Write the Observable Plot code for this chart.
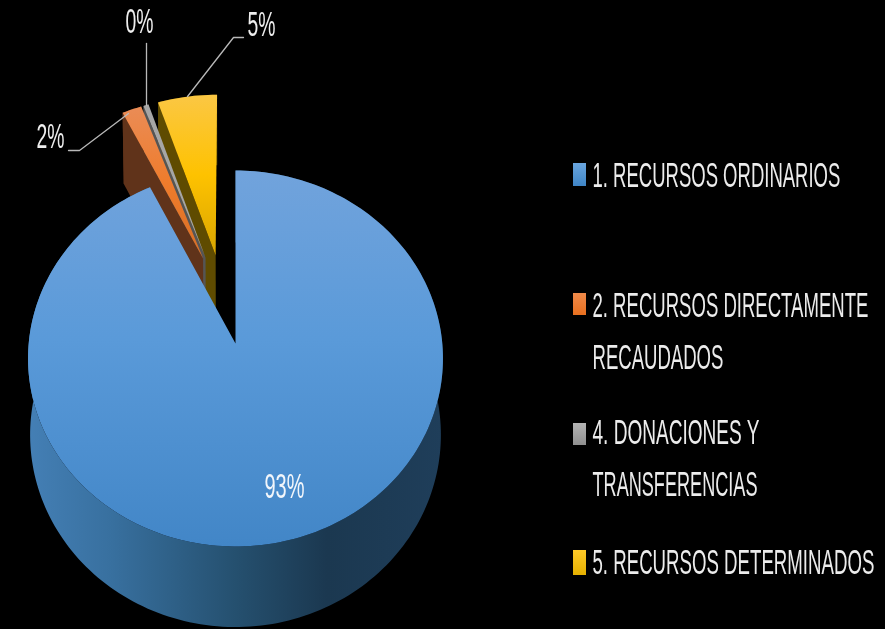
<!DOCTYPE html>
<html>
<head>
<meta charset="utf-8">
<script src="https://cdn.jsdelivr.net/npm/d3@7"></script>
<script src="https://cdn.jsdelivr.net/npm/@observablehq/plot@0.6"></script>
<style>
html,body{margin:0;padding:0;background:#000;overflow:hidden}
svg{display:block;filter:blur(0.55px)}
</style>
</head>
<body>
<script>
// Data
const categories = ["1. RECURSOS ORDINARIOS", "2. RECURSOS DIRECTAMENTE RECAUDADOS", "4. DONACIONES Y TRANSFERENCIAS", "5. RECURSOS DETERMINADOS"];
const shares = [92.7, 1.7, 0.45, 5.15];
const percentLabels = ["93%", "2%", "0%", "5%"];

// Colours per slice
const faceFills = ["url(#top0)", "url(#top1)", "#a6a6a6", "url(#top3)"];
const wallFills = ["url(#wall0)", "#60331a", "#555555", "#5f4b00"];
const swatchFills = ["url(#sw0)", "url(#sw1)", "url(#sw2)", "url(#sw3)"];

// Legend lines
const legendLines = ["1. RECURSOS ORDINARIOS", "2. RECURSOS DIRECTAMENTE", "RECAUDADOS", "4. DONACIONES Y", "TRANSFERENCIAS", "5. RECURSOS DETERMINADOS"];
const legendLineY = [175, 305, 357, 432, 484, 562];
const legendLineW = [248, 276, 131, 167, 165, 282];
const swatchTop = [163, 293, 423, 550];
const swatchBottom = [186, 315, 445, 575];

// Camera of the tilted disc
const cx = 235, cy = 343, R = 206.8, S = 186.8, D = 76, k = 0.0797, shrink = 0.99, explode = 0.5;
// Direction each slice is pulled out along, in degrees clockwise from straight up
const explodeBearing = [0, -19, -17.5, -11.5];
const explodeAmount = [0, explode, explode, explode];
const project = (u, v, h) => {
  const w = 1 + k * v, s = h ? shrink : 1;
  return {x: cx + R * u * s / w, y: cy - S * v * s / w + D * h / w};
};

const total = d3.sum(shares);
let acc = 0;
const slices = shares.map((value, i) => {
  const a0 = acc / total * 2 * Math.PI;
  acc += value;
  const a1 = acc / total * 2 * Math.PI;
  const b = explodeBearing[i] * Math.PI / 180, e = explodeAmount[i];
  return {i, a0, a1, ou: e * Math.sin(b), ov: e * Math.cos(b)};
});
const arcPts = (s, h) => {
  const n = Math.max(4, Math.ceil((s.a1 - s.a0) * 40));
  return d3.range(n + 1).map(j => {
    const a = s.a0 + (s.a1 - s.a0) * j / n;
    return project(s.ou + Math.sin(a), s.ov + Math.cos(a), h);
  });
};
const tip = (s, h) => project(s.ou, s.ov, h);
const topFace = s => [tip(s, 0), ...arcPts(s, 0)];
const arcWall = s => [...arcPts(s, 0), ...arcPts(s, 1).reverse()];
const edgeWall = s => {
  const c = project(s.ou + Math.sin(s.a0), s.ov + Math.cos(s.a0), 0);
  const d = project(s.ou + Math.sin(s.a0), s.ov + Math.cos(s.a0), 1);
  return [tip(s, 0), c, d, tip(s, 1)];
};

const poly = (pts, fill) => Plot.line(pts, {x: "x", y: "y", fill, stroke: "none", curve: "linear-closed"});

// back to front: yellow, grey, orange, blue
const order = [3, 2, 1, 0];
const pieMarks = order.flatMap(i => {
  const s = slices[i];
  return [poly(arcWall(s), wallFills[i]), poly(edgeWall(s), wallFills[i]), poly(topFace(s), faceFills[i])];
});

function gradient(defs, id, horizontal, stops) {
  const g = defs.append("linearGradient").attr("id", id)
    .attr("x1", 0).attr("y1", 0).attr("x2", horizontal ? 1 : 0).attr("y2", horizontal ? 0 : 1);
  stops.forEach(([o, c]) => g.append("stop").attr("offset", o).attr("stop-color", c));
}
const defsMark = () => {
  const defs = d3.create("svg:defs");
  gradient(defs, "top0", false, [[0, "#71a3dc"], [0.45, "#5a9ad9"], [1, "#4286c7"]]);
  gradient(defs, "top1", false, [[0, "#ea8c56"], [0.5, "#ef7c2c"], [1, "#d86e24"]]);
  gradient(defs, "top3", false, [[0, "#fbc744"], [0.5, "#fec200"], [1, "#d8a500"]]);
  gradient(defs, "wall0", true, [[0, "#447fb5"], [0.2, "#38709f"], [0.5, "#25506f"], [0.72, "#1b3850"], [1, "#1f3e5a"]]);
  gradient(defs, "sw0", false, [[0, "#6aa6df"], [1, "#3f85c6"]]);
  gradient(defs, "sw1", false, [[0, "#f08a4a"], [1, "#e8701f"]]);
  gradient(defs, "sw2", false, [[0, "#b4b4b4"], [1, "#8f8f8f"]]);
  gradient(defs, "sw3", false, [[0, "#ffca28"], [1, "#e5b000"]]);
  return defs.node();
};

// Annotations: label anchors and leader polylines on the picture's own grid
const labelSpots = [
  {t: percentLabels[0], x: 284, y: 486, w: 40, c: "#f2f6fb"},
  {t: percentLabels[1], x: 50, y: 136, w: 28, c: "#eeeeee"},
  {t: percentLabels[2], x: 139, y: 21, w: 28, c: "#eeeeee"},
  {t: percentLabels[3], x: 261, y: 24, w: 28, c: "#eeeeee"}
];
const leaders = [
  [{x: 68, y: 150}, {x: 79, y: 150}, {x: 128, y: 113}],
  [{x: 146, y: 43}, {x: 146, y: 105}],
  [{x: 243, y: 37}, {x: 233, y: 37}, {x: 187, y: 96}]
];

const legendRows = legendLines.map((t, i) => ({t, y: legendLineY[i]}));
const swatches = categories.map((c, i) => ({c, y1: swatchTop[i], y2: swatchBottom[i], fill: swatchFills[i]}));

const chart = Plot.plot({
  width: 885, height: 629,
  margin: 0,
  style: {background: "#000"},
  x: {domain: [0, 885], range: [0, 885], axis: null},
  y: {domain: [0, 629], range: [0, 629], axis: null},
  marks: [
    defsMark,
    ...pieMarks,
    ...leaders.map(l => Plot.line(l, {x: "x", y: "y", stroke: "#b9b9b9", strokeWidth: 1.3})),
    Plot.text(labelSpots, {x: "x", y: "y", text: "t", fill: "c", fontSize: 36, fontFamily: "Liberation Sans Narrow, Liberation Sans", textAnchor: "middle", lineAnchor: "middle"}),
    ...swatches.map(s => Plot.rect([s], {x1: () => 573, x2: () => 586, y1: "y1", y2: "y2", fill: s.fill})),
    Plot.text(legendRows, {x: () => 592, y: "y", text: "t", fill: "#ececec", fontSize: 35, fontFamily: "Liberation Sans Narrow, Liberation Sans", textAnchor: "start", lineAnchor: "middle"})
  ]
});
document.body.appendChild(chart);

// Condense the tall, narrow lettering to the widths measured in the picture
const widths = new Map([...legendLines.map((t, i) => [t, legendLineW[i]]), ...labelSpots.map(l => [l.t, l.w])]);
d3.select(chart).selectAll("text").each(function () {
  const w = widths.get(this.textContent);
  if (!w) return;
  const sx = w / this.getComputedTextLength();
  const tr = this.getAttribute("transform") || "";
  this.setAttribute("transform", `${tr} scale(${sx},1)`);
});
</script>
</body>
</html>
